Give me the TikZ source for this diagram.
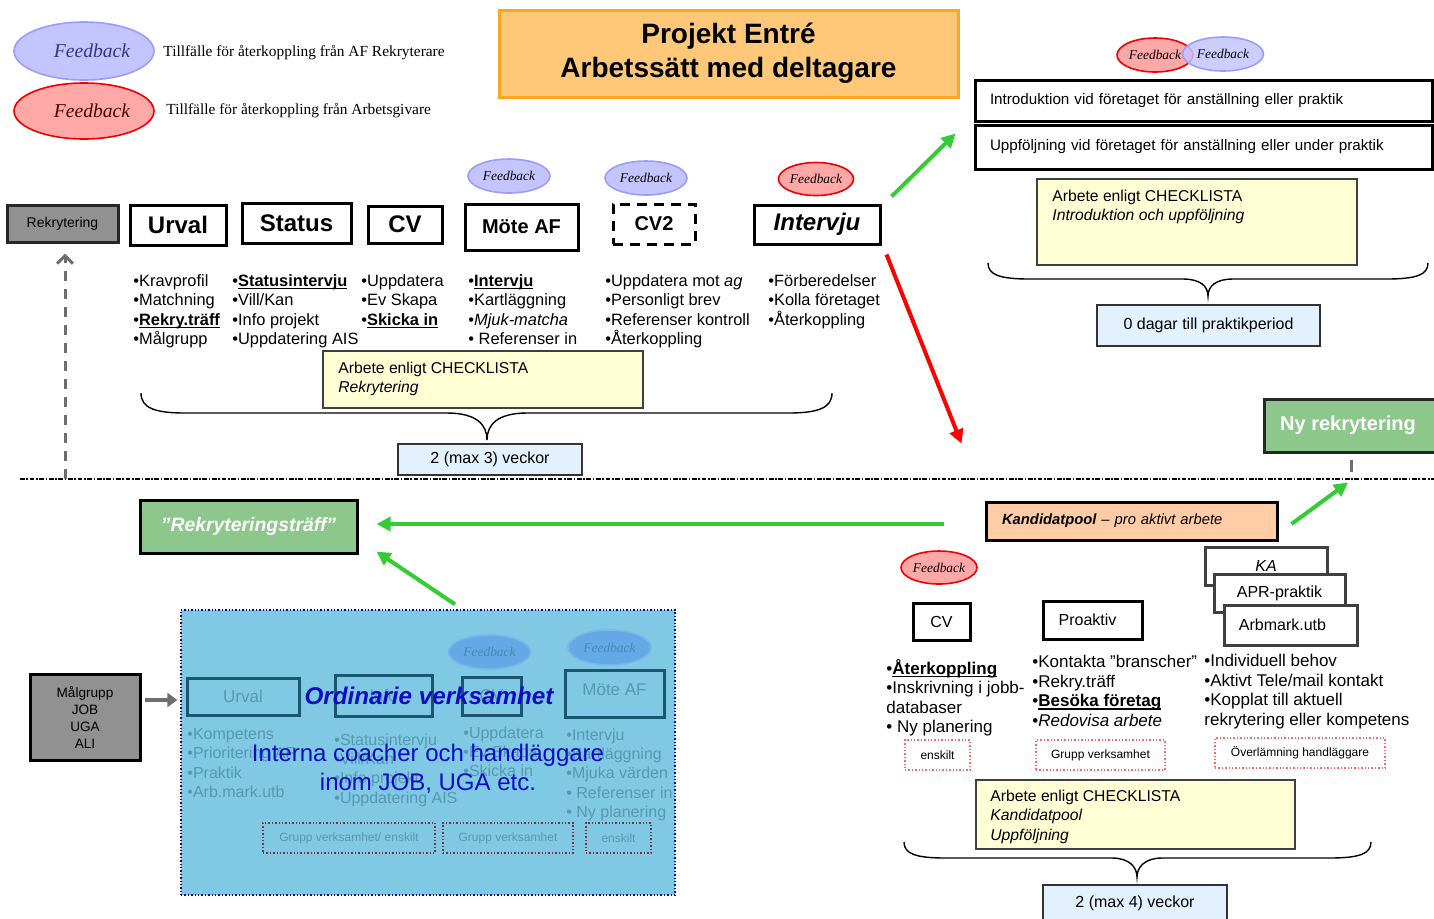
\documentclass[tikz,border=0pt]{standalone}
\usepackage{fontspec}
\setmainfont{Liberation Sans}
\newfontfamily\fbfont{Liberation Serif}
\usetikzlibrary{shapes.geometric,arrows.meta}
\newcommand{\fsz}[2]{\fontsize{#1}{#2}\selectfont}
\newsavebox{\ulbox}
\newcommand{\myul}[1]{\sbox{\ulbox}{#1}\rlap{\rule[-1.5pt]{\wd\ulbox}{0.65pt}}\usebox{\ulbox}}
\definecolor{fbB}{HTML}{C4C4FF}
\definecolor{fbBline}{HTML}{9C9CFF}
\definecolor{fbR}{HTML}{FFA8A8}
\definecolor{fbRline}{HTML}{F00000}
\definecolor{titlefill}{HTML}{FFC878}
\definecolor{titleline}{HTML}{FFA520}
\definecolor{grayfill}{HTML}{919191}
\definecolor{yel}{HTML}{FFFFD6}
\definecolor{lblue}{HTML}{E3F1FF}
\definecolor{gbox}{HTML}{8DC78B}
\definecolor{peach}{HTML}{FFCCA6}
\definecolor{skyc}{HTML}{7FC9E4}
\definecolor{garr}{HTML}{33CC33}
\definecolor{fadeline}{HTML}{1B5670}
\definecolor{fadetext}{HTML}{5897B2}
\definecolor{ovblue}{HTML}{0B0BC8}
\definecolor{skyfb}{HTML}{62A9E6}
\definecolor{skyfbtext}{HTML}{4688B8}
\definecolor{dgray}{HTML}{404040}
\definecolor{arrgray}{HTML}{6E6E6E}
\begin{document}
\begin{tikzpicture}[x=0.5pt,y=-0.5pt,
  box/.style={draw=black,line width=1.5pt,fill=white,inner sep=0pt},
  fbBl/.style={ellipse,draw=fbBline,fill=fbB,line width=0.8pt,inner sep=0pt,font=\fbfont\itshape\fsz{6.7}{8}},
  fbRd/.style={ellipse,draw=fbRline,fill=fbR,line width=0.8pt,inner sep=0pt,font=\fbfont\itshape\fsz{6.7}{8}},
  lst/.style={anchor=north west,align=left,inner sep=0pt,font=\fsz{8.2}{9.7}},
  lstb/.style={anchor=north west,align=left,inner sep=0pt,font=\fsz{8.5}{9.75}},
  lstf/.style={anchor=north west,align=left,inner sep=0pt,font=\fsz{8}{9.7},text=fadetext},
  yelbox/.style={draw=dgray,line width=0.8pt,fill=yel,inner sep=0pt},
  bluebox/.style={draw=black!80,line width=0.8pt,fill=lblue,inner sep=0pt,font=\fsz{8}{9}},
  redbox/.style={draw=red!60,densely dotted,line width=0.7pt,inner sep=0pt,font=\fsz{6}{7}},
  fadebox/.style={draw=fadeline,line width=1.5pt,inner sep=0pt,text=fadetext,font=\fsz{8.5}{10}},
  garrow/.style={draw=garr,line width=2pt,-{Triangle[length=7pt,width=7pt]}},
  brace/.style={draw=black,line width=0.7pt},
]
\useasboundingbox (0,0) rectangle (1434,918);

% legend
\node[fbBl,minimum width=70pt,minimum height=29pt,font=\fbfont\itshape\fsz{9.8}{11},text=black!45!blue!60!gray] (lgB) at (84,51) {\hspace*{8pt}Feedback};
\node[anchor=west,inner sep=0pt,font=\fbfont\fsz{7.7}{9}] (lgBt) at (163,53) {Tillfälle för återkoppling från AF Rekryterare};
\node[fbRd,minimum width=70pt,minimum height=28pt,font=\fbfont\itshape\fsz{9.8}{11},text=black!70!red] (lgR) at (84,111) {\hspace*{8pt}Feedback};
\node[anchor=west,inner sep=0pt,font=\fbfont\fsz{7.7}{9}] (lgRt) at (166,111) {Tillfälle för återkoppling från Arbetsgivare};

% title
\node[draw=titleline,fill=titlefill,line width=1.5pt,minimum width=229.5pt,minimum height=43.5pt,align=center,font=\bfseries\fsz{14}{17}] (title) at (728.5,53.5) {Projekt Entré\\Arbetssätt med deltagare};

% top row
\node[box,fill=grayfill,draw=black!85,minimum width=55.5pt,minimum height=18.5pt,font=\fsz{7}{8}] (rekr) at (62.5,223.5) {Rekrytering};
\node[box,minimum width=48pt,minimum height=20pt,font=\bfseries\fsz{12}{14}] (urval) at (178,225) {Urval};
\node[box,minimum width=54.5pt,minimum height=20pt,font=\bfseries\fsz{12}{14}] (status) at (296.5,223) {Status};
\node[box,minimum width=37pt,minimum height=18.5pt,font=\bfseries\fsz{12}{14}] (cv) at (405,224.5) {CV};
\node[box,minimum width=56.5pt,minimum height=23pt,font=\bfseries\fsz{10}{12}] (mote) at (521.5,227) {Möte AF};
\node[box,dash pattern=on 5pt off 3.5pt,minimum width=41pt,minimum height=20pt,font=\bfseries\fsz{10}{12}] (cv2) at (654,224) {CV2};
\node[box,minimum width=63pt,minimum height=19.5pt,font=\bfseries\itshape\fsz{12}{14}] (intv) at (817,224.5) {Intervju};

\node[fbBl,minimum width=41pt,minimum height=17pt] (fb1) at (509,176) {Feedback};
\node[fbBl,minimum width=41pt,minimum height=17pt] (fb2) at (646,178) {Feedback};
\node[fbRd,minimum width=37.5pt,minimum height=16.5pt] (fb3) at (816,179) {Feedback};

% lists top
\node[lst] (l1) at (133,274) {•Kravprofil\\•Matchning\\•\myul{\textbf{Rekry.träff}}\\•Målgrupp};
\node[lst] (l2) at (232,274) {•\myul{\textbf{Statusintervju}}\\•Vill/Kan\\•Info projekt\\•Uppdatering AIS};
\node[lst] (l3) at (361,274) {•Uppdatera\\•Ev Skapa\\•\myul{\textbf{Skicka in}}};
\node[lst] (l4) at (468,274) {•\myul{\textbf{Intervju}}\\•Kartläggning\\•\textit{Mjuk-matcha}\\• Referenser in};
\node[lst] (l5) at (605,274) {•Uppdatera mot \textit{ag}\\•Personligt brev\\•Referenser kontroll\\•Återkoppling};
\node[lst] (l6) at (768,274) {•Förberedelser\\•Kolla företaget\\•Återkoppling};

\node[yelbox,minimum width=160pt,minimum height=28.5pt] (y1) at (483,379.5) {};
\node[lst,font=\fsz{7.85}{9.5}] (y1t) at (338,362) {Arbete enligt CHECKLISTA\\\textit{Rekrytering}};
\draw[brace] (141,393) .. controls (141,408) and (155,413) .. (185,413) -- (447,413) .. controls (477,413) and (487,425) .. (487,440) .. controls (487,425) and (497,413) .. (527,413) -- (788,413) .. controls (818,413) and (832,408) .. (832,393);
\node[bluebox,minimum width=92pt,minimum height=15.5pt] (v1) at (490,459.5) {2 (max 3) veckor};

% separator
\coordinate (sepL) at (20,479);
\coordinate (sepR) at (1434,479);
\draw[line width=0.9pt,dash pattern=on 2.4pt off 0.8pt on 0.8pt off 0.8pt] (sepL) -- (sepR);
\coordinate (upS) at (65,479);
\draw[draw=arrgray,line width=1.5pt,dash pattern=on 5pt off 4pt,-{Straight Barb[length=4pt,width=8pt,line width=1.5pt]}] (upS) -- ([yshift=-5pt]upS |- rekr.south);

% right top
\node[fbRd,minimum width=38pt,minimum height=17pt] (fb4) at (1155,55) {Feedback};
\node[fbBl,minimum width=40.5pt,minimum height=17pt,fill opacity=0.85,text opacity=1] (fb5) at (1223,54) {Feedback};
\node[box,minimum height=20.5pt,text width=213.5pt,inner xsep=7.5pt,align=left,font=\fsz{7.6}{9}] (intro) at (1203.5,100.5) {Introduktion vid företaget för anställning eller praktik};
\node[box,minimum height=22pt,text width=213.5pt,inner xsep=7.5pt,align=left,font=\fsz{7.6}{9}] (upp) at (1203.5,147) {Uppföljning vid företaget för anställning eller under praktik};
\node[yelbox,minimum width=160pt,minimum height=43pt] (y2) at (1197,222) {};
\node[lst,font=\fsz{7.85}{9.5}] (y2t) at (1052,190) {Arbete enligt CHECKLISTA\\\textit{Introduktion och uppföljning}};
\draw[brace] (988,263) .. controls (988,275) and (1000,279) .. (1030,279) -- (1183,279) .. controls (1200,279) and (1208,286) .. (1208,296) .. controls (1208,286) and (1216,279) .. (1233,279) -- (1386,279) .. controls (1416,279) and (1428,275) .. (1428,263);
\node[bluebox,minimum width=111.5pt,minimum height=20.5pt] (v2) at (1208.5,325.5) {0 dagar till praktikperiod};

\node[box,fill=gbox,draw=black!85,minimum width=88pt,minimum height=26.5pt,text=white,font=\bfseries\fsz{10}{12}] (nyrek) at (1352,425.5) {\hspace*{-4pt}Ny rekrytering};
\draw[draw=arrgray,line width=1.5pt] ([shift={(-1,6)}]nyrek.south) -- ([shift={(-1,18)}]nyrek.south);

% bottom right
\node[box,fill=peach,minimum height=19pt,text width=129.5pt,inner xsep=8pt,align=left,font=\itshape\fsz{7.4}{9}] (kand) at (1131.5,521) {\textbf{Kandidatpool} – pro aktivt arbete};
\node[box,fill=gbox,minimum width=108.5pt,minimum height=26.5pt,text=white,font=\bfseries\itshape\fsz{9.7}{12}] (rtreff) at (248.5,526.5) {”Rekryteringsträff”};

% arrows
\draw[garrow] ([shift={(10,-7)}]intv.north east) -- ([shift={(-18,11)}]intro.south west);
\draw[draw=red,line width=2pt,-{Triangle[length=7pt,width=7pt]}] ([shift={(5,9)}]intv.south east) -- ([shift={(-23,-57)}]kand.north west);
\draw[garrow] ([shift={(-41,3)}]kand.west) -- ([shift={(18,-2.5)}]rtreff.east);
\draw[garrow] ([shift={(13,3)}]kand.east) -- ([shift={(-4,29)}]nyrek.south);

\node[fbRd,minimum width=38pt,minimum height=16.5pt] (fb6) at (939,567.5) {Feedback};
\node[box,minimum width=28.5pt,minimum height=18.5pt,font=\fsz{8}{9}] (cvb) at (941.5,621.5) {CV};
\node[box,minimum width=49.5pt,minimum height=19pt,font=\fsz{8}{9}] (proa) at (1092.5,620) {\hspace*{-5pt}Proaktiv};
\node[box,draw=dgray,minimum width=61pt,minimum height=19pt,font=\itshape\fsz{8}{9}] (ka) at (1266,566) {KA};
\node[box,draw=dgray,minimum width=65.5pt,minimum height=19pt,font=\fsz{8}{9}] (apr) at (1279.5,593) {APR-praktik};
\node[box,draw=dgray,minimum width=66.5pt,minimum height=20pt,font=\fsz{8}{9}] (arb) at (1290.5,625) {\hspace*{-8pt}Arbmark.utb};

\node[lstb] (b1) at (886,659) {•\myul{\textbf{Återkoppling}}\\•Inskrivning i jobb-\\databaser\\• Ny planering};
\node[lstb] (b2) at (1032,655) {•Kontakta ”branscher”\\•Rekry.träff\\•\myul{\textbf{Besöka företag}}\\•\textit{Redovisa arbete}};
\node[lstb] (b3) at (1204,654) {•Individuell behov\\•Aktivt Tele/mail kontakt\\•Kopplat till aktuell\\rekrytering eller kompetens};

\node[redbox,minimum width=32.5pt,minimum height=15pt] (r1) at (937.5,755) {enskilt};
\node[redbox,minimum width=64.5pt,minimum height=15pt] (r2) at (1100.5,755) {Grupp verksamhet};
\node[redbox,minimum width=85pt,minimum height=15pt] (r3) at (1300,753) {Överlämning handläggare};

\node[yelbox,minimum width=159.5pt,minimum height=34.5pt] (y3) at (1135.5,814.5) {};
\node[lst,font=\fsz{7.85}{9.6}] (y3t) at (990,790) {Arbete enligt CHECKLISTA\\\textit{Kandidatpool}\\\textit{Uppföljning}};
\draw[brace] (904,842) .. controls (904,854) and (916,858) .. (946,858) -- (1112,858) .. controls (1129,858) and (1137,867) .. (1137,877) .. controls (1137,867) and (1145,858) .. (1162,858) -- (1329,858) .. controls (1359,858) and (1371,854) .. (1371,842);
\node[bluebox,minimum width=92pt,minimum height=18.5pt] (v3) at (1135,903.5) {2 (max 4) veckor};

% bottom left
\node[box,fill=grayfill,minimum width=55pt,minimum height=43pt,align=center,font=\fsz{6.8}{8.5}] (malg) at (85,717) {Målgrupp\\JOB\\UGA\\ALI};
\node[draw=ovblue!70!black,densely dotted,line width=0.7pt,fill=skyc,minimum width=247pt,minimum height=142.5pt,inner sep=0pt] (sky) at (428,752.5) {};
\draw[draw=arrgray,line width=2pt,-{Triangle[length=5pt,width=7pt]}] ([shift={(3,-17)}]malg.east) -- ([shift={(-3,-52.5)}]sky.west);
\draw[garrow] ([shift={(27,-5)}]sky.north) -- ([shift={(18,-3)}]rtreff.south east);

\node[fadebox,minimum width=56pt,minimum height=18.5pt] (fu) at (243,696.5) {Urval};
\node[fadebox,minimum width=48.5pt,minimum height=20.5pt] (fi) at (383.5,695.5) {Info};
\node[fadebox,minimum width=29.5pt,minimum height=19pt] (fc) at (491.5,696) {CV};
\node[fadebox,minimum width=49.5pt,minimum height=23.5pt] (fm) at (614.5,693.5) {\raisebox{4pt}{Möte AF}};
\node[ellipse,draw=skyfb!85!white,fill=skyfb,line width=0.8pt,inner sep=0pt,minimum width=41pt,minimum height=17pt,text=skyfbtext,font=\fbfont\itshape\fsz{6.7}{8}] (ffb1) at (489.5,652) {Feedback};
\node[ellipse,draw=skyfb!85!white,fill=skyfb,line width=0.8pt,inner sep=0pt,minimum width=41.5pt,minimum height=17.5pt,text=skyfbtext,font=\fbfont\itshape\fsz{6.7}{8}] (ffb2) at (609.5,647.5) {Feedback};

\node[lstf] (f1) at (187,728) {•Kompetens\\•Prioritering AF\\•Praktik\\•Arb.mark.utb};
\node[lstf] (f2) at (334,733) {•Statusintervju\\•Vill/Kan\\•Info projekt\\•Uppdatering AIS};
\node[lstf] (f3) at (463,726) {•Uppdatera\\•Ev Skapa\\•Skicka in};
\node[lstf] (f4) at (566,728) {•Intervju\\•Kartläggning\\•Mjuka värden\\• Referenser in\\• Ny planering};

\node[redbox,draw=red!45!fadeline,text=fadetext,minimum width=86pt,minimum height=15pt] (fr1) at (349,838) {Grupp verksamhet/ enskilt};
\node[redbox,draw=red!45!fadeline,text=fadetext,minimum width=65pt,minimum height=15pt] (fr2) at (508,838) {Grupp verksamhet};
\node[redbox,draw=red!45!fadeline,text=fadetext,minimum width=32.5pt,minimum height=15pt] (fr3) at (618.5,838) {enskilt};

\node[inner sep=0pt,text=ovblue,font=\bfseries\itshape\fsz{12.1}{14}] (ord) at (429,696) {Ordinarie verksamhet};
\node[inner sep=0pt,align=center,text=ovblue,font=\fsz{12}{14.5}] (intc) at (428,769) {Interna coacher och handläggare\\inom JOB, UGA etc.};
\end{tikzpicture}
\end{document}
